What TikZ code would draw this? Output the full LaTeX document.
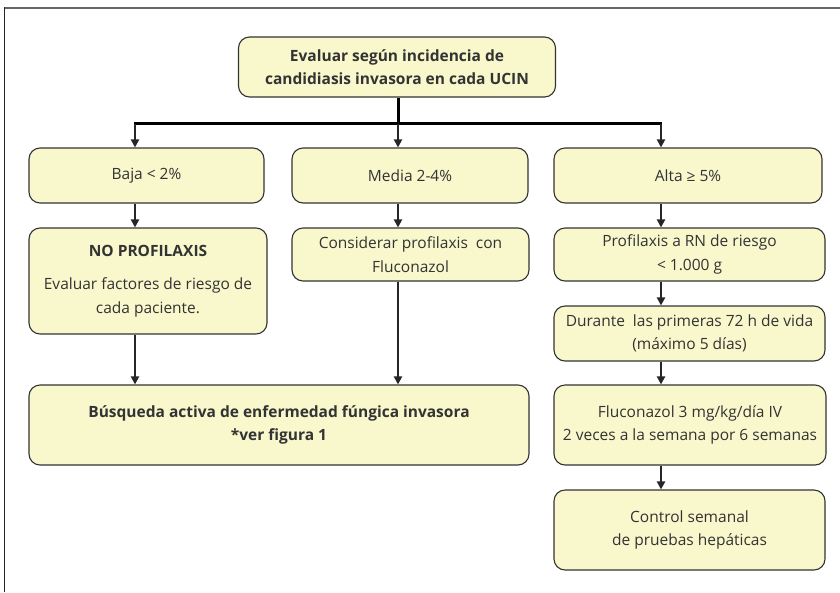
\documentclass[tikz,border=0pt]{standalone}
\usepackage{fontspec}
\setmainfont{Open Sans}
\usetikzlibrary{arrows.meta}
\definecolor{boxfill}{HTML}{F9F7CC}
\definecolor{boxline}{HTML}{333333}
\definecolor{txt}{HTML}{333333}
\begin{document}
\begin{tikzpicture}[x=1pt,y=-1pt,
  fbox/.style={draw=boxline,fill=boxfill,line width=1.1pt,rounded corners=11pt,
    align=center,inner sep=2pt,text=txt,font=\fontsize{15.5}{23.5}\selectfont},
  conn/.style={draw=black!85,line width=2pt,-{Triangle[width=8pt,length=8pt]}},
  bus/.style={draw=black,line width=3pt}]
\useasboundingbox (0,0) rectangle (840,592);
\fill[white] (0,0) rectangle (840,592);
% frame
\draw[line width=2pt,black!60] (4,7.5) -- (840,7.5);
\draw[line width=1.8pt,black!85] (4.5,7) -- (4.5,592);
% nodes
\node[fbox,minimum width=317pt,minimum height=60pt,font=\fontsize{15.5}{23.5}\selectfont\bfseries] (top) at (397,67) {Evaluar según incidencia de\\candidiasis invasora en cada UCIN};
\node[fbox,minimum width=235pt,minimum height=55pt] (baja) at (146.5,175.5) {Baja < 2\%};
\node[fbox,minimum width=236pt,minimum height=55pt] (media) at (410,175.5) {Media 2-4\%};
\node[fbox,minimum width=268pt,minimum height=55pt] (alta) at (688,175.5) {Alta ≥ 5\%};
\node[fbox,minimum width=238pt,minimum height=106pt] (nop) at (148,281) {\textbf{NO PROFILAXIS}\\[10pt]Evaluar factores de riesgo de\\cada paciente.};
\node[fbox,minimum width=237pt,minimum height=53pt] (cons) at (410.5,254.5) {Considerar profilaxis\ \ con\\Fluconazol};
\node[fbox,minimum width=271pt,minimum height=53pt] (prof) at (689.5,254.5) {Profilaxis a RN de riesgo\\< 1.000 g};
\node[fbox,minimum width=271pt,minimum height=55pt] (dur) at (689.5,333.5) {Durante\ \ las primeras 72 h de vida\\(máximo 5 días)};
\node[fbox,minimum width=272pt,minimum height=80pt] (flu) at (690,425) {Fluconazol 3 mg/kg/día IV\\2 veces a la semana por 6 semanas};
\node[fbox,minimum width=271pt,minimum height=80pt] (ctrl) at (689.5,530) {Control semanal\\de pruebas hepáticas};
\node[fbox,minimum width=500pt,minimum height=80pt,font=\fontsize{15.5}{23.5}\selectfont\bfseries] (busq) at (279,425) {Búsqueda activa de enfermedad fúngica invasora\\*ver figura 1};
% column coordinates
\coordinate (xa) at (135,123.5);
\coordinate (xb) at (398,123.5);
\coordinate (xc) at (661,123.5);
% bus
\draw[bus] (top.south -| xb) -- (xb);
\draw[bus] ([xshift=-1pt]xa) -- ([xshift=1pt]xc);
\draw[conn] (xa) -- (baja.north -| xa);
\draw[conn] (xb) -- (media.north -| xb);
\draw[conn] (xc) -- (alta.north -| xc);
% columns
\draw[conn] (baja.south -| xa) -- (nop.north -| xa);
\draw[conn] (nop.south -| xa) -- (busq.north -| xa);
\draw[conn] (media.south -| xb) -- (cons.north -| xb);
\draw[conn] (cons.south -| xb) -- (busq.north -| xb);
\draw[conn] (alta.south -| xc) -- (prof.north -| xc);
\draw[conn] (prof.south -| xc) -- (dur.north -| xc);
\draw[conn] (dur.south -| xc) -- (flu.north -| xc);
\draw[conn] (flu.south -| xc) -- (ctrl.north -| xc);
\end{tikzpicture}
\end{document}
